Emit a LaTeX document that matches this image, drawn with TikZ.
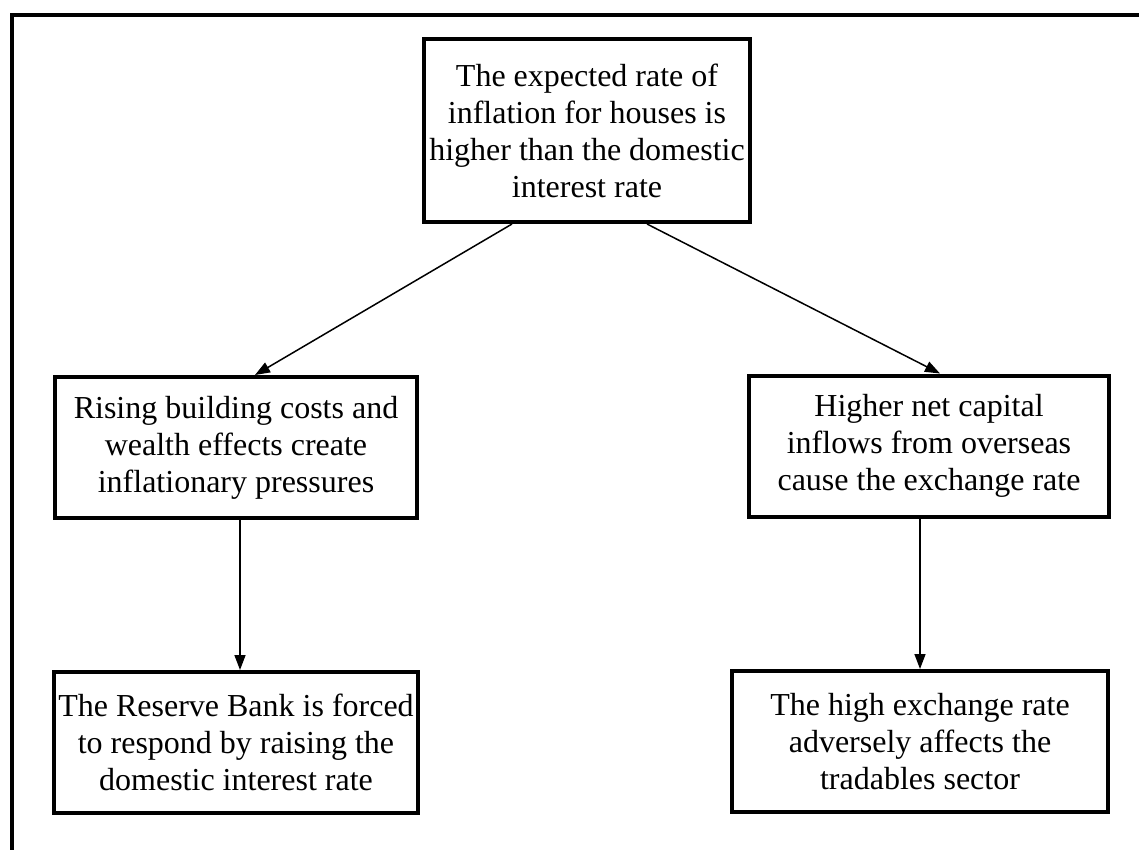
\documentclass[tikz,border=0pt]{standalone}
\usepackage{fontspec}
\setmainfont{Liberation Serif}
\usetikzlibrary{arrows.meta}
\begin{document}
\begin{tikzpicture}[x=1pt,y=-1pt,
  box/.style={draw=black,line width=4pt,align=center,inner sep=0pt,
    font=\fontsize{32}{37}\selectfont},
  conn/.style={line width=1.5pt,-{Triangle[length=15pt,width=11pt]}}]
\useasboundingbox (0,0) rectangle (1139,850);
\draw[line width=4pt] (12,900) -- (12,15) -- (1160,15);
\node[box,minimum width=326pt,minimum height=183pt] (top) at (587,130.5)
  {The expected rate of\\inflation for houses is\\higher than the domestic\\interest rate};
\node[box,minimum width=362pt,minimum height=141pt] (lm) at (236,447.5)
  {Rising building costs and\\wealth effects create\\inflationary pressures};
\node[box,minimum width=360pt,minimum height=141pt] (rm) at (929,446)
  {Higher net capital\\inflows from overseas\\cause the exchange rate};
\node[box,minimum width=364pt,minimum height=141pt] (lb) at (236,742.5)
  {The Reserve Bank is forced\\to respond by raising the\\domestic interest rate};
\node[box,minimum width=376pt,minimum height=141pt] (rb) at (920,741.5)
  {The high exchange rate\\adversely affects the\\tradables sector};
\draw[conn] (top.south) ++(-75,0) coordinate (t1) -- (lm.north -| 255,0);
\draw[conn] (top.south) ++(60,0) coordinate (t2) -- (rm.north -| 940,0);
\draw[conn] (lm.south -| 240,0) -- (lb.north -| 240,0);
\draw[conn] (rm.south -| 920,0) -- (rb.north -| 920,0);
\end{tikzpicture}
\end{document}
